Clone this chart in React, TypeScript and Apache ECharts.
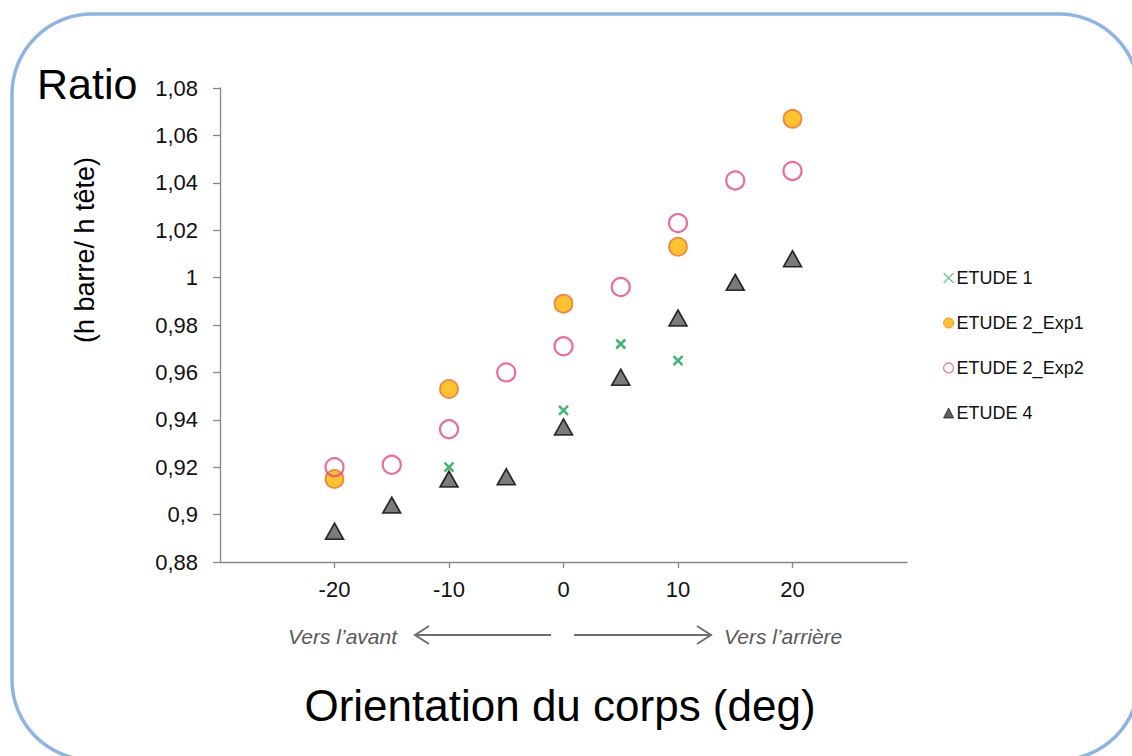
import React, { useEffect, useRef } from "react";
import * as echarts from "echarts";

const FONT = "'Liberation Sans', Arial, sans-serif";

const seriesNames = ["ETUDE 1", "ETUDE 2_Exp1", "ETUDE 2_Exp2", "ETUDE 4"];

const etude1: [number, number][] = [
  [-10, 0.92],
  [0, 0.944],
  [5, 0.972],
  [10, 0.965],
];
const etude2Exp1: [number, number][] = [
  [-20, 0.915],
  [-10, 0.953],
  [0, 0.989],
  [10, 1.013],
  [20, 1.067],
];
const etude2Exp2: [number, number][] = [
  [-20, 0.92],
  [-15, 0.921],
  [-10, 0.936],
  [-5, 0.96],
  [0, 0.971],
  [5, 0.996],
  [10, 1.023],
  [15, 1.041],
  [20, 1.045],
];
const etude4: [number, number][] = [
  [-20, 0.893],
  [-15, 0.904],
  [-10, 0.915],
  [-5, 0.916],
  [0, 0.937],
  [5, 0.958],
  [10, 0.983],
  [15, 0.998],
  [20, 1.008],
];

const xMin = -30;
const xMax = 30;
const xStep = 10;
const yMin = 0.88;
const yMax = 1.08;
const yStep = 0.02;

const crossPath = "path://M0,0 L10,10 M10,0 L0,10";

export default function App() {
  const ref = useRef<HTMLDivElement>(null);

  useEffect(() => {
    if (!ref.current) return;
    const chart = echarts.init(ref.current, null, { renderer: "svg" });
    const axisColor = "#868686";

    const option: any = {
      animation: false,
      backgroundColor: "#ffffff",
      grid: { left: 220, top: 88, width: 687, height: 474, containLabel: false },
      xAxis: {
        type: "value",
        min: xMin,
        max: xMax,
        interval: xStep,
        splitLine: { show: false },
        axisLine: { show: true, onZero: false, lineStyle: { color: axisColor, width: 1.3 } },
        axisTick: { show: true, length: 6, lineStyle: { color: axisColor, width: 1.3 } },
        axisLabel: {
          show: true,
          showMinLabel: false,
          showMaxLabel: false,
          margin: 16,
          fontFamily: FONT,
          fontSize: 22,
          color: "#111",
        },
      },
      yAxis: {
        type: "value",
        min: yMin,
        max: yMax,
        interval: yStep,
        splitLine: { show: false },
        axisLine: { show: true, onZero: false, lineStyle: { color: axisColor, width: 1.3 } },
        axisTick: { show: true, length: 7, lineStyle: { color: axisColor, width: 1.3 } },
        axisLabel: {
          margin: 22,
          fontFamily: FONT,
          fontSize: 22,
          color: "#111",
          formatter: (v: number) => String(+v.toFixed(2)).replace(".", ","),
        },
      },
      legend: {
        orient: "vertical",
        left: 938,
        top: 264,
        itemWidth: 10,
        itemHeight: 10,
        itemGap: 27,
        textStyle: { fontFamily: FONT, fontSize: 18, color: "#111", lineHeight: 18, padding: [0, 0, 0, -2] },
        selectedMode: false,
        data: [
          { name: seriesNames[0], icon: crossPath, itemStyle: { color: "transparent", borderColor: "#4cb07a", borderWidth: 1.2 } },
          { name: seriesNames[1], icon: "circle", itemStyle: { color: "#FFB000", borderColor: "#E8782A", borderWidth: 1 } },
          { name: seriesNames[2], icon: "circle", itemStyle: { color: "#ffffff", borderColor: "#E0488C", borderWidth: 1.2 } },
          { name: seriesNames[3], icon: "triangle", itemStyle: { color: "#3a3a3a", borderColor: "#000", borderWidth: 0.8 } },
        ],
      },
      series: [
        {
          name: seriesNames[0],
          type: "scatter",
          data: etude1,
          symbol: crossPath,
          symbolSize: 9,
          itemStyle: { color: "transparent", borderColor: "#17A050", borderWidth: 2.6 },
        },
        {
          name: seriesNames[1],
          type: "scatter",
          data: etude2Exp1,
          symbol: "circle",
          symbolSize: 18,
          itemStyle: { color: "#FFB300", borderColor: "#E8702A", borderWidth: 1.8 },
        },
        {
          name: seriesNames[2],
          type: "scatter",
          data: etude2Exp2,
          symbol: "circle",
          symbolSize: 18,
          itemStyle: { color: "transparent", borderColor: "#E4468C", borderWidth: 2.2 },
        },
        {
          name: seriesNames[3],
          type: "scatter",
          data: etude4,
          symbol: "triangle",
          symbolSize: [18, 16],
          itemStyle: { color: "#5a5a5a", borderColor: "#000000", borderWidth: 1.6 },
        },
      ],
      graphic: [
        {
          type: "rect",
          silent: true,
          shape: { x: 12, y: 14, width: 1127, height: 746, r: 80 },
          style: { fill: "none", stroke: "#8DB4E2", lineWidth: 3.5 },
          z: 100,
        },
        {
          type: "text",
          x: 37,
          y: 84,
          style: {
            text: "Ratio",
            font: `43px ${FONT}`,
            fill: "#000",
            textAlign: "left",
            textVerticalAlign: "middle",
          },
        },
        {
          type: "text",
          x: 85,
          y: 250,
          rotation: Math.PI / 2,
          style: {
            text: "(h barre/ h tête)",
            font: `27px ${FONT}`,
            fill: "#000",
            textAlign: "center",
            textVerticalAlign: "middle",
          },
        },
        {
          type: "text",
          x: 560,
          y: 705,
          style: {
            text: "Orientation du corps (deg)",
            font: `44px ${FONT}`,
            fill: "#000",
            textAlign: "center",
            textVerticalAlign: "middle",
          },
        },
        {
          type: "text",
          x: 397,
          y: 636,
          style: {
            text: "Vers l’avant",
            font: `italic 21px ${FONT}`,
            fill: "#595959",
            textAlign: "right",
            textVerticalAlign: "middle",
          },
        },
        {
          type: "text",
          x: 724,
          y: 636,
          style: {
            text: "Vers l’arrière",
            font: `italic 21px ${FONT}`,
            fill: "#595959",
            textAlign: "left",
            textVerticalAlign: "middle",
          },
        },
        {
          type: "line",
          shape: { x1: 551, y1: 635, x2: 415, y2: 635 },
          style: { stroke: "#6f6f6f", lineWidth: 2 },
        },
        {
          type: "polyline",
          shape: { points: [[429, 626], [415, 635], [429, 644]] },
          style: { stroke: "#6f6f6f", lineWidth: 2, fill: "none" },
        },
        {
          type: "line",
          shape: { x1: 574, y1: 635, x2: 711, y2: 635 },
          style: { stroke: "#6f6f6f", lineWidth: 2 },
        },
        {
          type: "polyline",
          shape: { points: [[697, 626], [711, 635], [697, 644]] },
          style: { stroke: "#6f6f6f", lineWidth: 2, fill: "none" },
        },
      ],
    };

    chart.setOption(option);
    return () => chart.dispose();
  }, []);

  return (
    <div
      ref={ref}
      style={{ position: "fixed", left: 0, top: 0, width: 1132, height: 756, background: "#fff" }}
    />
  );
}
